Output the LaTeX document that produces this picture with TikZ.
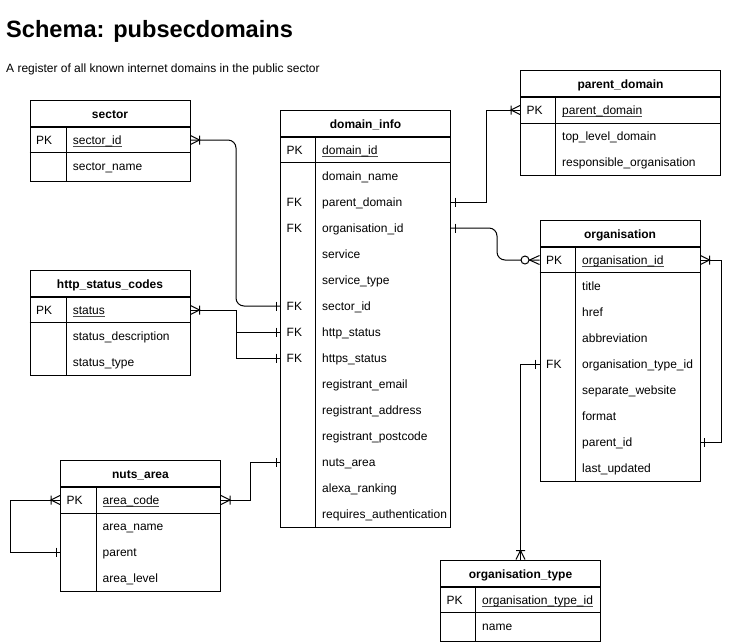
\documentclass[tikz,border=0pt]{standalone}
\usepackage{fontspec}
\setmainfont{Liberation Sans}
\usetikzlibrary{decorations.markings}
\newcommand\keyfield[1]{\setbox0\hbox{#1}\rlap{\textcolor{black!70}{\rule[-2.5pt]{\wd0}{0.7pt}}}\box0}

\begin{document}
\begin{tikzpicture}[x=1pt, y=-1pt,
    head/.style ={draw, line width=1pt, inner sep=0pt, minimum height=26pt, text height=11pt, text depth=1pt, font=\fontsize{12}{14}\selectfont\bfseries},
    body/.style ={draw, line width=1pt, inner sep=0pt, anchor=north},
    field/.style ={anchor=west, inner sep=0pt, text height=10pt, text depth=2pt, font=\fontsize{12}{14}\selectfont},
    rel/.style ={line width=1pt},
    onestart/.style ={postaction={decorate, decoration={markings, mark=at position 0 with {\draw[line width=1pt, sharp corners] (4,-4.5) -- (4,4.5);}}}},
    oneend/.style ={postaction={decorate, decoration={markings, mark=at position 1 with {\draw[line width=1pt, sharp corners] (-4,-4.5) -- (-4,4.5);}}}},
    manystart/.style ={postaction={decorate, decoration={markings, mark=at position 0 with {\draw[line width=1pt, sharp corners] (0,-4.5) -- (9,0) -- (0,4.5) (9,-4.5) -- (9,4.5);}}}},
    manyend/.style ={postaction={decorate, decoration={markings, mark=at position 1 with {\draw[line width=1pt, sharp corners] (0,-4.5) -- (-9,0) -- (0,4.5) (-9,-4.5) -- (-9,4.5);}}}},
    zeroend/.style ={postaction={decorate, decoration={markings, mark=at position 1 with {\draw[line width=1pt, sharp corners] (0,-4.5) -- (-10,0) -- (0,4.5); \draw[line width=1pt, fill=white] (-14.5,0) circle[radius=4];}}}}]
   \useasboundingbox (0,0) rectangle (730,641);

   \node[anchor=base west, inner sep=0pt, font=\fontsize{23.6}{28}\selectfont\bfseries] (title) at (6,37) {Schema: pubsecdomains};
   \node[anchor=base west, inner sep=0pt, font=\fontsize{12}{14}\selectfont] (subtitle) at (6,72) {A register of all known internet domains in the public sector};

   % sector
   \node[head, minimum width=160pt] (sector) at (110,113) {sector};
   \node[body, minimum width=160pt, minimum height=54pt] (sector_body) at (sector.south) {};
   \draw[rel] ([yshift=-26pt]sector_body.north west) -- ([yshift=-26pt]sector_body.north east);
   \draw[rel] ([xshift=36.5pt]sector_body.north west) -- ([xshift=36.5pt]sector_body.south west);
   \node[field] (sec_pk) at (36,140) {PK};
   \node[field] (sec_id) at (72.7,140) {\keyfield{sector\_id}};
   \node[field] (sec_name) at (72.7,166) {sector\_name};

   % http_status_codes
   \node[head, minimum width=160pt] (http) at (110,283) {http\_status\_codes};
   \node[body, minimum width=160pt, minimum height=78pt] (http_body) at (http.south) {};
   \draw[rel] ([yshift=-26pt]http_body.north west) -- ([yshift=-26pt]http_body.north east);
   \draw[rel] ([xshift=36.5pt]http_body.north west) -- ([xshift=36.5pt]http_body.south west);
   \node[field] (http_pk) at (36,310) {PK};
   \node[field] (http_status) at (72.7,310) {\keyfield{status}};
   \node[field] (http_desc) at (72.7,336) {status\_description};
   \node[field] (http_type) at (72.7,362) {status\_type};

   % domain_info
   \node[head, minimum width=170pt] (dom) at (365.5,123) {domain\_info};
   \node[body, minimum width=170pt, minimum height=390pt] (dom_body) at (dom.south) {};
   \draw[rel] ([yshift=-26pt]dom_body.north west) -- ([yshift=-26pt]dom_body.north east);
   \draw[rel] ([xshift=35.5pt]dom_body.north west) -- ([xshift=35.5pt]dom_body.south west);
   \node[field] (dom_pk) at (286.5,150) {PK};
   \node[field] (dom_fk1) at (286.5,202) {FK};
   \node[field] (dom_fk2) at (286.5,228) {FK};
   \node[field] (dom_fk3) at (286.5,306) {FK};
   \node[field] (dom_fk4) at (286.5,332) {FK};
   \node[field] (dom_fk5) at (286.5,358) {FK};
   \node[field] (dom_id) at (322,150) {\keyfield{domain\_id}};
   \node[field] (dom_name) at (322,176) {domain\_name};
   \node[field] (dom_parent) at (322,202) {parent\_domain};
   \node[field] (dom_org) at (322,228) {organisation\_id};
   \node[field] (dom_service) at (322,254) {service};
   \node[field] (dom_stype) at (322,280) {service\_type};
   \node[field] (dom_sector) at (322,306) {sector\_id};
   \node[field] (dom_http) at (322,332) {http\_status};
   \node[field] (dom_https) at (322,358) {https\_status};
   \node[field] (dom_email) at (322,384) {registrant\_email};
   \node[field] (dom_address) at (322,410) {registrant\_address};
   \node[field] (dom_postcode) at (322,436) {registrant\_postcode};
   \node[field] (dom_nuts) at (322,462) {nuts\_area};
   \node[field] (dom_alexa) at (322,488) {alexa\_ranking};
   \node[field] (dom_auth) at (322,514) {requires\_authentication};

   % parent_domain
   \node[head, minimum width=200pt] (pdom) at (620.5,83.5) {parent\_domain};
   \node[body, minimum width=200pt, minimum height=78pt] (pdom_body) at (pdom.south) {};
   \draw[rel] ([yshift=-26pt]pdom_body.north west) -- ([yshift=-26pt]pdom_body.north east);
   \draw[rel] ([xshift=35.5pt]pdom_body.north west) -- ([xshift=35.5pt]pdom_body.south west);
   \node[field] (pdom_pk) at (526.5,110) {PK};
   \node[field] (pdom_id) at (562,110) {\keyfield{parent\_domain}};
   \node[field] (pdom_tld) at (562,136) {top\_level\_domain};
   \node[field] (pdom_resp) at (562,162) {responsible\_organisation};

   % organisation
   \node[head, minimum width=160pt] (org) at (620,233) {organisation};
   \node[body, minimum width=160pt, minimum height=234pt] (org_body) at (org.south) {};
   \draw[rel] ([yshift=-26pt]org_body.north west) -- ([yshift=-26pt]org_body.north east);
   \draw[rel] ([xshift=36pt]org_body.north west) -- ([xshift=36pt]org_body.south west);
   \node[field] (org_pk) at (546,260) {PK};
   \node[field] (org_fk) at (546,364) {FK};
   \node[field] (org_id) at (582,260) {\keyfield{organisation\_id}};
   \node[field] (org_title) at (582,286) {title};
   \node[field] (org_href) at (582,312) {href};
   \node[field] (org_abbr) at (582,338) {abbreviation};
   \node[field] (org_typeid) at (582,364) {organisation\_type\_id};
   \node[field] (org_web) at (582,390) {separate\_website};
   \node[field] (org_format) at (582,416) {format};
   \node[field] (org_parent) at (582,442) {parent\_id};
   \node[field] (org_updated) at (582,468) {last\_updated};

   % organisation_type
   \node[head, minimum width=160pt] (otype) at (520.5,573) {organisation\_type};
   \node[body, minimum width=160pt, minimum height=54pt] (otype_body) at (otype.south) {};
   \draw[rel] ([yshift=-26pt]otype_body.north west) -- ([yshift=-26pt]otype_body.north east);
   \draw[rel] ([xshift=35.5pt]otype_body.north west) -- ([xshift=35.5pt]otype_body.south west);
   \node[field] (otype_pk) at (446.5,600) {PK};
   \node[field] (otype_id) at (482,600) {\keyfield{organisation\_type\_id}};
   \node[field] (otype_name) at (482,626) {name};

   % nuts_area
   \node[head, minimum width=160pt] (nuts) at (140.5,473.5) {nuts\_area};
   \node[body, minimum width=160pt, minimum height=104pt] (nuts_body) at (nuts.south) {};
   \draw[rel] ([yshift=-26pt]nuts_body.north west) -- ([yshift=-26pt]nuts_body.north east);
   \draw[rel] ([xshift=36pt]nuts_body.north west) -- ([xshift=36pt]nuts_body.south west);
   \node[field] (nuts_pk) at (66.5,500) {PK};
   \node[field] (nuts_code) at (102.5,500) {\keyfield{area\_code}};
   \node[field] (nuts_name) at (102.5,526) {area\_name};
   \node[field] (nuts_parent) at (102.5,552) {parent};
   \node[field] (nuts_level) at (102.5,578) {area\_level};

   % relations
   \draw[rel, rounded corners=8pt, manystart, oneend] (sec_id -| sector.east) -- ++(45.5,0) |- (dom_sector -| dom.west);
   \draw[rel, manystart, oneend] (http_status -| http.east) -- ++(45.5,0) |- (dom_http -| dom.west);
   \draw[rel, oneend] (http_status -| http.east) -- ++(45.5,0) |- (dom_https -| dom.west);
   \draw[rel, onestart, manyend] (dom_parent -| dom.east) -- ++(35,0) |- (pdom_id -| pdom.west);
   \draw[rel, rounded corners=8pt, onestart, zeroend] (dom_org -| dom.east) -- ++(46,0) |- (org_id -| org.west);
   \draw[rel, manystart, oneend] (org_id -| org.east) -- ++(20.5,0) |- (org_parent -| org.east);
   \draw[rel, manystart, oneend] (otype.north) |- (org_typeid -| org.west);
   \draw[rel, onestart, manyend] (dom_nuts -| dom.west) -- ++(-30,0) |- (nuts_code -| nuts.east);
   \draw[rel, manystart, oneend] (nuts_code -| nuts.west) -- ++(-50,0) |- (nuts_parent -| nuts.west);

 \end{tikzpicture}
\end{document}
